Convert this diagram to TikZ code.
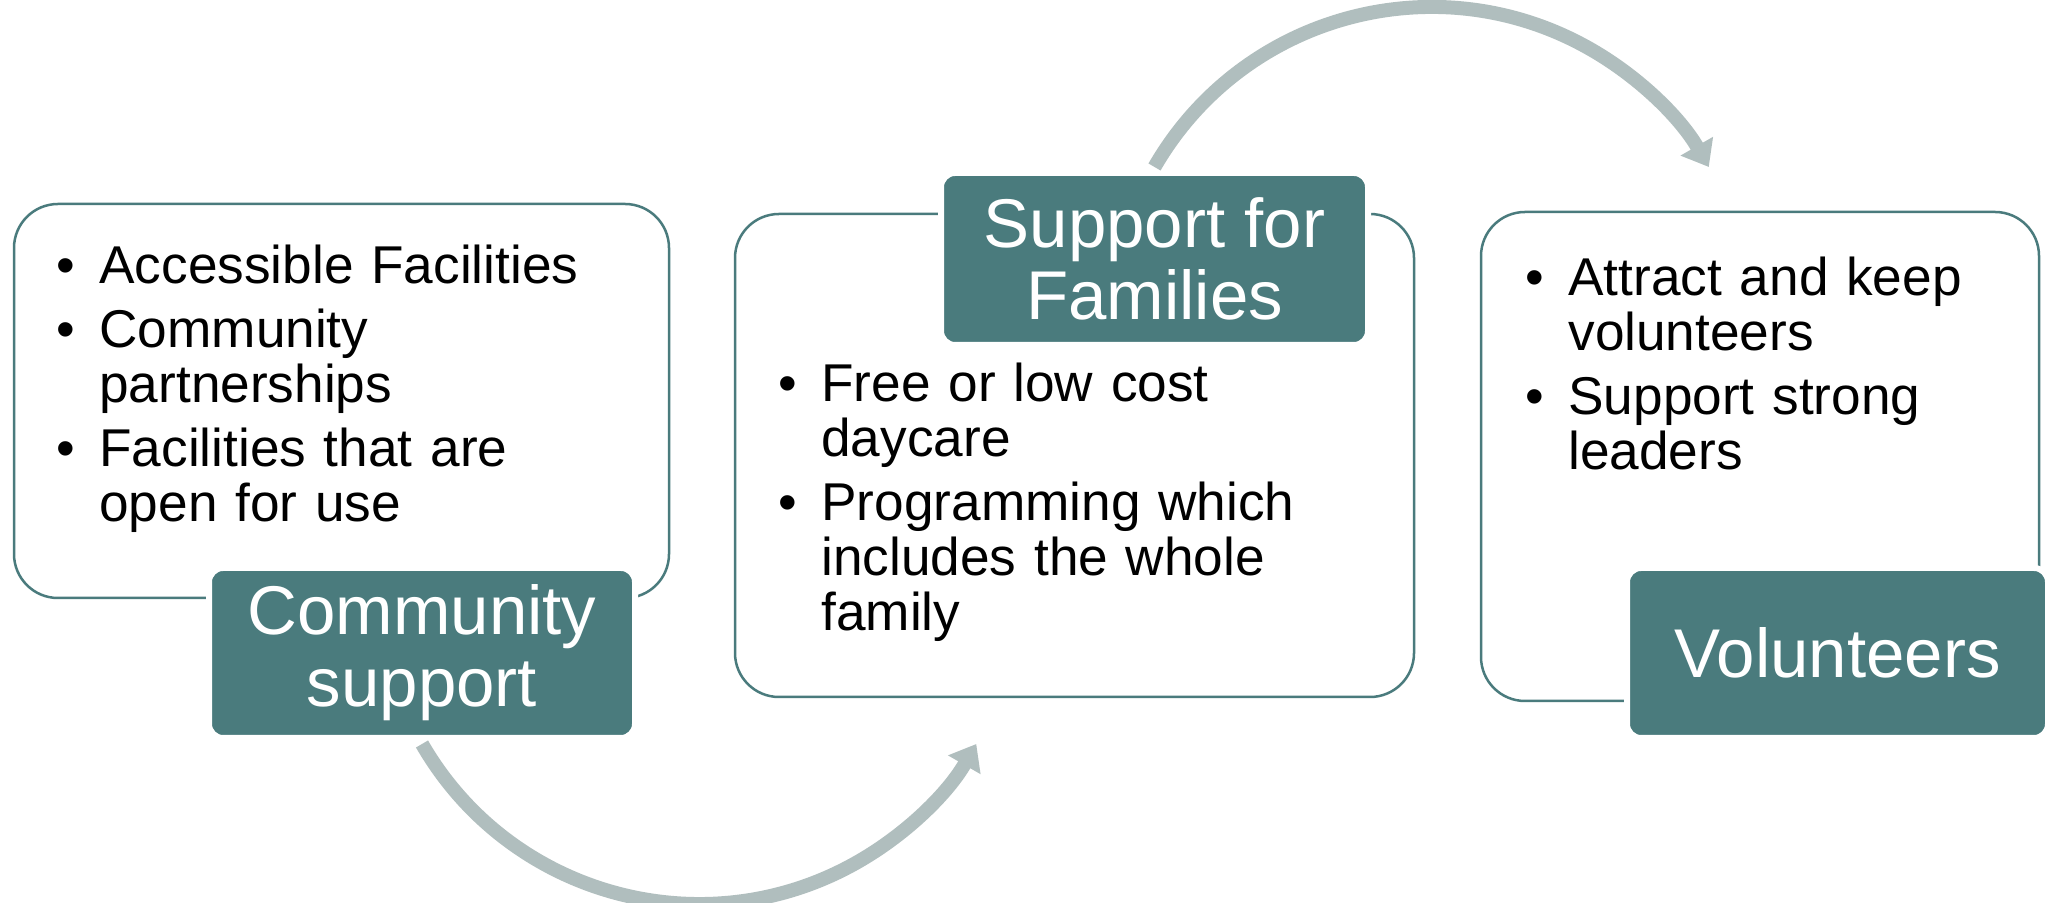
\documentclass[tikz,border=0pt]{standalone}
\usepackage{fontspec}
\setmainfont{Liberation Sans}
\usetikzlibrary{arrows.meta}
\definecolor{tealdark}{RGB}{74,123,125}
\definecolor{arrowgray}{RGB}{176,190,190}
\newcommand{\bitem}[1]{\hangindent=21.5pt\hangafter=1\noindent\makebox[21.5pt][l]{\textbullet}#1\par}
\begin{document}
\begin{tikzpicture}[x=0.5pt,y=0.5pt,
  cbox/.style={draw=tealdark, line width=1.25pt, rounded corners=22pt, fill=white, inner sep=0pt},
  lbl/.style={fill=tealdark, draw=white, line width=3pt, rounded corners=7pt, text=white,
    font=\fontsize{34.5}{36}\selectfont, align=center, inner sep=0pt},
  txt/.style={anchor=base west, text width=300pt, align=left, inner sep=0pt,
    font=\fontsize{26.6}{27.5}\selectfont\setlength{\parskip}{4.5pt}},
  flow/.style={draw=arrowgray, line width=7pt, -{Triangle[width=18pt,length=12pt]}}]
\useasboundingbox (0,0) rectangle (2048,903);
\fill[white] (0,0) rectangle (2048,903);
% content boxes
\node[cbox, minimum width=327.5pt, minimum height=197pt] (b1) at (341.5,502) {};
\node[cbox, minimum width=339.5pt, minimum height=241.5pt] (b2) at (1074.5,447.5) {};
\node[cbox, minimum width=279pt, minimum height=244.5pt] (b3) at (1760,446.5) {};
% labels
\node[lbl, minimum width=213pt, minimum height=85pt] (l1) at (422,250) {Community\\support};
\node[lbl, minimum width=213.5pt, minimum height=86pt] (l2) at (1154.5,644) {Support for\\Families};
\node[lbl, minimum width=210.5pt, minimum height=85pt] (l3) at (1837.5,250) {Volunteers};
% texts
\node[txt] (t1) at (56,619) {\bitem{Accessible Facilities}\bitem{Community\newline partnerships}\bitem{Facilities that are\newline open for use}};
\node[txt] (t2) at (778,501) {\bitem{Free or low cost\newline daycare}\bitem{Programming which\newline includes the whole\newline family}};
\node[txt] (t3) at (1525,607) {\bitem{Attract and keep\newline volunteers}\bitem{Support strong\newline leaders}};
% arrows
\draw[flow] ([yshift=-1.5pt]l1.south) arc[start angle=210, end angle=330, radius=320];
\draw[flow] ([yshift=1.5pt]l2.north) arc[start angle=150, end angle=30, radius=320];
\end{tikzpicture}
\end{document}
